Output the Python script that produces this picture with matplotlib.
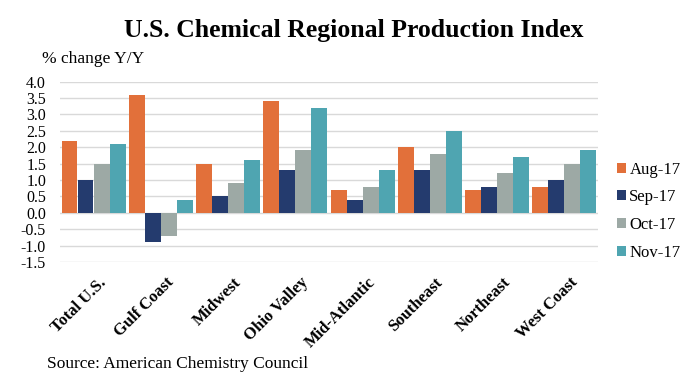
import matplotlib.pyplot as plt
import matplotlib.transforms as mtransforms
import numpy as np

plt.rcParams["font.family"] = ["Liberation Serif", "DejaVu Serif"]

regions = ["Total U.S.", "Gulf Coast", "Midwest", "Ohio Valley",
           "Mid-Atlantic", "Southeast", "Northeast", "West Coast"]
aug_17 = [2.2, 3.6, 1.5, 3.4, 0.7, 2.0, 0.7, 0.8]
sep_17 = [1.0, -0.9, 0.5, 1.3, 0.4, 1.3, 0.8, 1.0]
oct_17 = [1.5, -0.7, 0.9, 1.9, 0.8, 1.8, 1.2, 1.5]
nov_17 = [2.1, 0.4, 1.6, 3.2, 1.3, 2.5, 1.7, 1.9]
series_names = ["Aug-17", "Sep-17", "Oct-17", "Nov-17"]
yticks = [-1.5, -1.0, -0.5, 0.0, 0.5, 1.0, 1.5, 2.0, 2.5, 3.0, 3.5, 4.0]

colors = ["#E2703A", "#243B6E", "#9DA9A5", "#4FA5B1"]

fig = plt.figure(figsize=(6.97, 3.83), dpi=100)
ax = fig.add_axes([0.086, 0.316, 0.772, 0.471])

x = np.arange(len(regions))
width = 0.238
for i, (vals, name) in enumerate(zip([aug_17, sep_17, oct_17, nov_17], series_names)):
    ax.bar(x + (i - 1.5) * width, vals, width * 0.99, color=colors[i],
           label=name, zorder=3)

ax.set_xlim(-0.5, len(regions) - 0.5)
ax.set_ylim(-1.5, 4.0)
ax.set_yticks(yticks)
ax.set_yticklabels([f"{v:.1f}" for v in yticks], fontsize=11.5)
ax.yaxis.grid(True, color="#D9D9D9", linewidth=1, zorder=0)
ax.set_xticks(x)
ax.set_xticklabels(regions, rotation=45, ha="right", rotation_mode="anchor",
                   fontsize=12, fontweight="bold")
ax.tick_params(axis="y", length=0, pad=10)
ax.tick_params(axis="x", length=0, pad=9)
# nudge the rotated category labels a little to the right
offset = mtransforms.ScaledTranslation(5 / 100, 0, fig.dpi_scale_trans)
for lbl in ax.get_xticklabels():
    lbl.set_transform(lbl.get_transform() + offset)
for s in ax.spines.values():
    s.set_visible(False)

ax.legend(loc="center left", bbox_to_anchor=(0.885, 0.449),
          bbox_transform=fig.transFigure, frameon=False, fontsize=12,
          handlelength=0.55, handleheight=0.55, handletextpad=0.2,
          labelspacing=0.7, borderpad=0, borderaxespad=0)

fig.text(0.508, 0.903, "U.S. Chemical Regional Production Index", ha="center",
         va="baseline", fontsize=18.5, fontweight="bold")
fig.text(0.06, 1 - 62.7 / 383, "% change Y/Y", ha="left", va="baseline",
         fontsize=12.5)
fig.text(0.067, 1 - 368 / 383, "Source: American Chemistry Council", ha="left",
         va="baseline", fontsize=12.5)

fig.savefig("out.png", dpi=100)
